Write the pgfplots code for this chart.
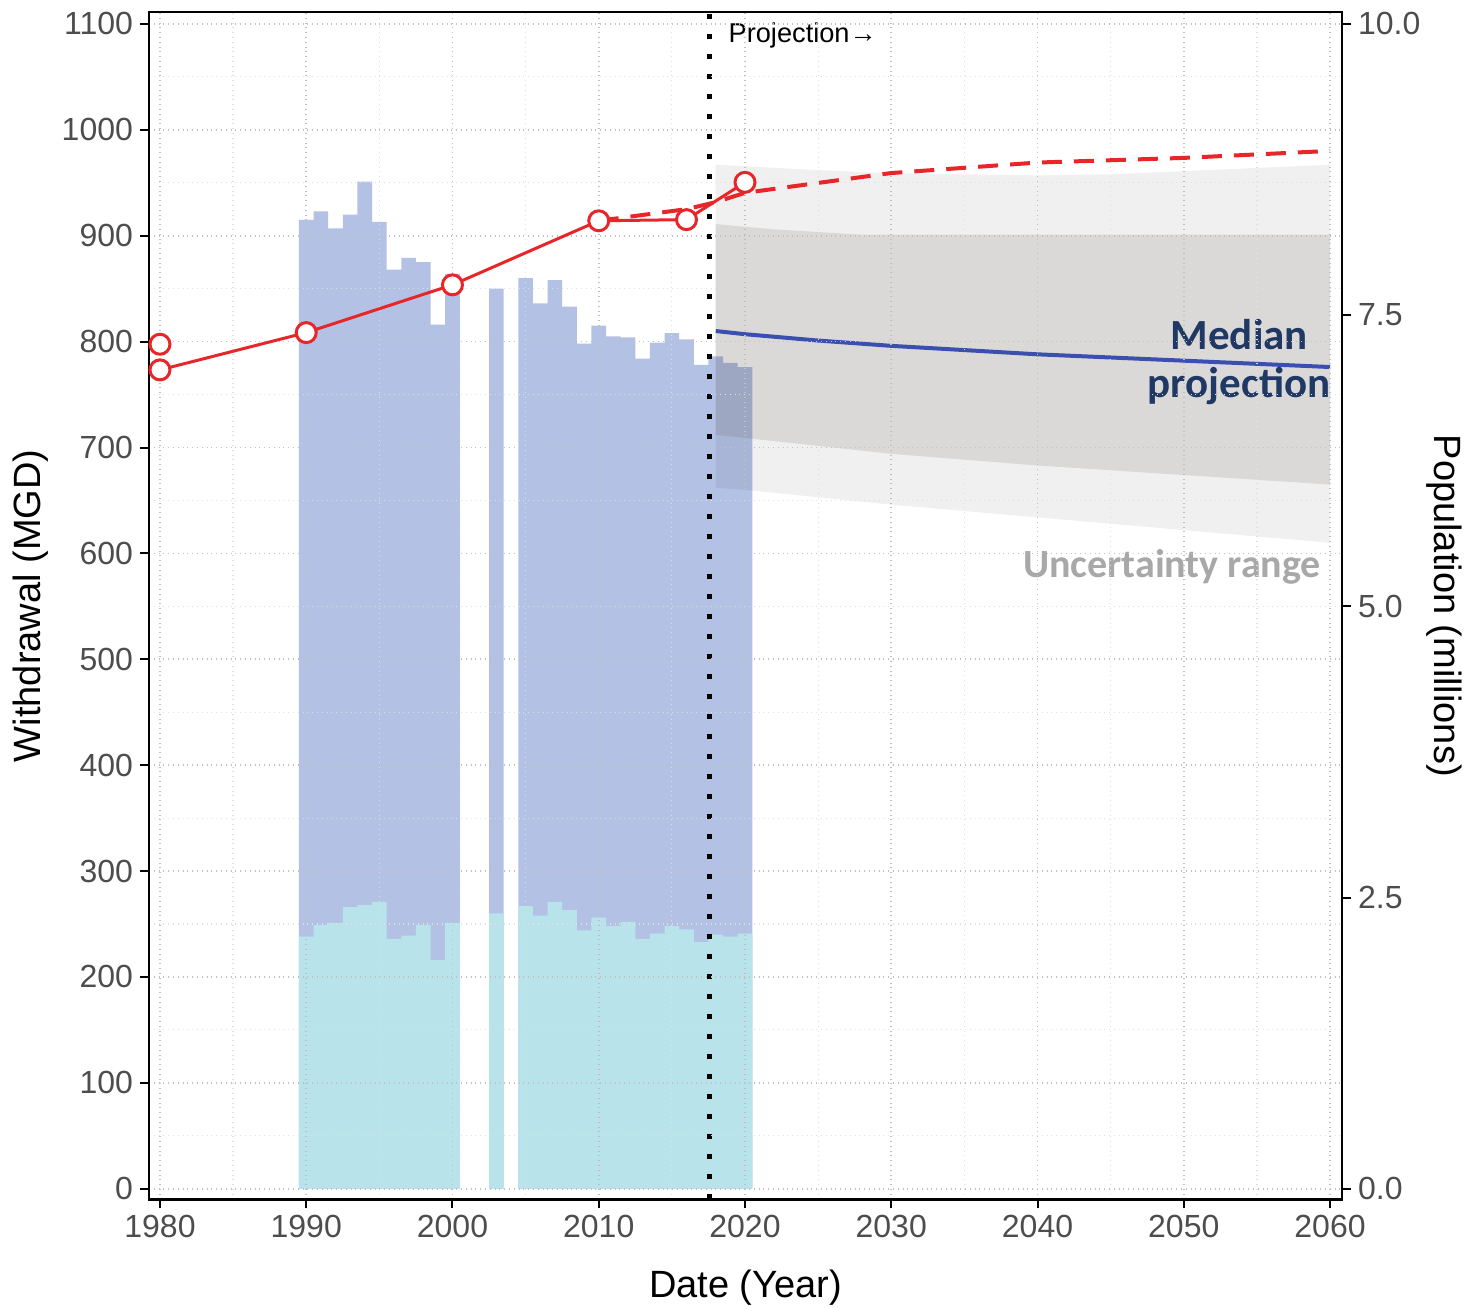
\documentclass[border=0pt]{standalone}
\usepackage{pgfplots}
\pgfplotsset{compat=1.18}
\usepackage{fontspec}
\setmainfont{Liberation Sans}
\newfontfamily\carlito{Carlito}
\definecolor{tickgray}{HTML}{4D4D4D}
\definecolor{barblue}{HTML}{B3C1E5}
\definecolor{barcyan}{HTML}{B9E3EA}
\definecolor{popred}{HTML}{E8262A}
\definecolor{medblue}{HTML}{3A4FB0}
\definecolor{navy}{HTML}{1F3864}
\definecolor{unc}{HTML}{A8A8A8}
\definecolor{bandgray}{HTML}{6B6660}
\begin{document}
\begin{tikzpicture}
\useasboundingbox (-74.5pt,-54.7pt) rectangle (658.5pt,599.65pt);
\begin{axis}[
  at={(0,0)}, anchor=south west, scale only axis,
  width=596.5pt, height=593.5pt,
  xmin=1979.25, xmax=2060.82, ymin=-10, ymax=1111,
  xtick={1980,1990,2000,2010,2020,2030,2040,2050,2060},
  ytick={0,100,200,300,400,500,600,700,800,900,1000,1100},
  minor x tick num=1, minor y tick num=1,
  grid=both,
  major grid style={gray!50, dotted, line width=0.8pt},
  minor grid style={gray!25, dotted, line width=0.6pt},
  axis on top,
  tick align=outside, xtick pos=left, ytick pos=left,
  major tick length=4.5pt, minor tick length=0pt,
  tick style={black, line width=1pt},
  axis line style={black, line width=1.2pt},
  scaled ticks=false,
  /pgf/number format/1000 sep={},
  /pgf/number format/assume math mode=true,
  ticklabel style={font=\fontsize{16}{19}\selectfont, text=tickgray},
  xlabel={Date (Year)},
  ylabel={Withdrawal (MGD)},
  label style={font=\fontsize{19}{22}\selectfont},
  xlabel style={at={(axis description cs:0.5,-0.0742)}, anchor=center},
  ylabel style={at={(axis description cs:-0.099,0.5)}, anchor=center},
]
% total withdrawal
\addplot[ybar, bar width=1, bar shift=0pt, fill=barblue, draw=none] coordinates {
(1990,915) (1991,923) (1992,907) (1993,920) (1994,951) (1995,913) (1996,868)
(1997,879) (1998,875) (1999,816) (2000,864) (2003,850) (2005,860) (2006,836)
(2007,858) (2008,833) (2009,798) (2010,815) (2011,805) (2012,804) (2013,784)
(2014,799) (2015,808) (2016,802) (2017,778) (2018,786) (2019,780) (2020,776)};
% lower component
\addplot[ybar, bar width=1, bar shift=0pt, fill=barcyan, draw=none] coordinates {
(1990,238) (1991,249) (1992,251) (1993,266) (1994,268) (1995,271) (1996,236)
(1997,239) (1998,249) (1999,216) (2000,251) (2003,260) (2005,267) (2006,258)
(2007,271) (2008,263) (2009,244) (2010,256) (2011,248) (2012,252) (2013,236)
(2014,241) (2015,248) (2016,245) (2017,233) (2018,240) (2019,238) (2020,241)};
% outer uncertainty band
\addplot[fill=black, fill opacity=0.06, draw=none] coordinates {
(2018,662) (2020,660) (2030,646) (2040,634) (2050,622) (2060,610)
(2060,967) (2055,964) (2050,961) (2045,958) (2040,957) (2030,959) (2025,962) (2018,967)} -- cycle;
% inner uncertainty band
\addplot[fill=bandgray, fill opacity=0.17, draw=none] coordinates {
(2018,712) (2020,709) (2030,694) (2040,683) (2050,674) (2060,665)
(2060,901) (2028,901) (2022,906) (2018,911)} -- cycle;
% median projection
\addplot[medblue, line width=2pt] coordinates {
(2018,810) (2020,807) (2025,801) (2030,796) (2035,792) (2040,788) (2045,785)
(2050,782) (2055,779) (2060,776)};
% projection start line
\addplot[black, line width=2.6pt, dash pattern=on 2.6pt off 7.4pt] coordinates {(2017.6,-10) (2017.6,1111)};
\node[anchor=west, font=\fontsize{13.6}{16}\selectfont] at (axis cs:2018.4,1089.5) {Projection→};
\node[align=center, text=navy, font=\carlito\bfseries\fontsize{21.5}{24}\selectfont] at (axis cs:2053.8,781) {Median\\projection};
\node[text=unc, font=\carlito\bfseries\fontsize{20}{23}\selectfont] at (axis cs:2049.2,587) {Uncertainty range};
\end{axis}
\begin{axis}[
  at={(0,0)}, anchor=south west, scale only axis,
  width=596.5pt, height=593.5pt,
  xmin=1979.25, xmax=2060.82, ymin=-0.0909, ymax=10.1,
  axis x line=none, axis y line*=right,
  ytick={0,2.5,5,7.5,10},
  tick align=outside, major tick length=4.5pt,
  tick style={black, line width=1pt},
  axis line style={black, line width=1.2pt},
  /pgf/number format/.cd, fixed, fixed zerofill, precision=1, assume math mode=true,
  /pgfplots/.cd,
  ticklabel style={font=\fontsize{16}{19}\selectfont, text=tickgray},
  ylabel={Population (millions)},
  ylabel style={font=\fontsize{19}{22}\selectfont, at={(axis description cs:1.0856,0.5)}, anchor=center, rotate=180},
  clip=false,
]
\addplot[popred, line width=2pt, dash pattern=on 10pt off 6pt] coordinates {
(2010,8.31) (2016,8.41) (2018,8.47) (2020,8.55) (2030,8.72) (2040,8.81) (2050,8.85) (2060,8.91)};
\addplot[popred, line width=1.5pt, mark=*, mark size=5pt, mark options={solid, fill=white, draw=popred, line width=1.5pt}] coordinates {
(1980,7.03) (1990,7.35) (2000,7.76) (2010,8.31) (2016,8.32) (2020,8.64)};
\addplot[only marks, mark=*, mark size=5pt, mark options={fill=white, draw=popred, line width=1.5pt}] coordinates {(1980,7.25)};
\end{axis}
\end{tikzpicture}
\end{document}
